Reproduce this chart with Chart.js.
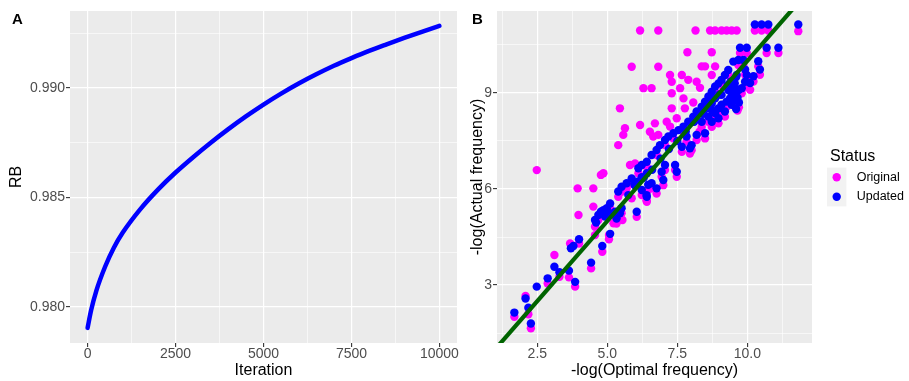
<!DOCTYPE html>
<html><head><meta charset="utf-8">
<script src="https://cdn.jsdelivr.net/npm/chart.js@4.4.1/dist/chart.umd.min.js"></script>
<style>
html,body{margin:0;padding:0;background:#fff;}
#wrap{position:relative;width:909px;height:381px;overflow:hidden;background:#fff;}
canvas{position:absolute;top:0;}
#cA{left:0;}
#cB{left:460px;}
</style></head><body>
<div id="wrap"><canvas id="cA" width="460" height="381"></canvas><canvas id="cB" width="449" height="381"></canvas></div>
<script>
// ---------- Panel A data ----------
const iterA = [0, 100, 250, 500, 750, 1000, 1500, 2000, 2500, 3000, 3500, 4000, 4500, 5000, 5500, 6000, 6500, 7000, 7500, 8000, 8500, 9000, 9500, 10000];
const rbA = [0.97905, 0.97985, 0.98075, 0.98185, 0.98272, 0.98340, 0.98447, 0.98536, 0.98614, 0.98684, 0.98750, 0.98812, 0.98870, 0.98924, 0.98974, 0.99020, 0.99062, 0.99101, 0.99136, 0.99169, 0.99199, 0.99228, 0.99256, 0.99283];

const aXTicks = [0, 2500, 5000, 7500, 10000];
const aXLabels = ['0', '2500', '5000', '7500', '10000'];
const aXMinor = [1250, 3750, 6250, 8750];
const aYTicks = [0.980, 0.985, 0.990];
const aYLabels = ['0.980', '0.985', '0.990'];
const aYMinor = [0.9825, 0.9875, 0.9925];

// ---------- Panel B data ----------
const bXTicks = [2.5, 5.0, 7.5, 10.0];
const bXLabels = ['2.5', '5.0', '7.5', '10.0'];
const bXMinor = [1.25, 3.75, 6.25, 8.75, 11.25];
const bYTicks = [3, 6, 9];
const bYLabels = ['3', '6', '9'];
const bYMinor = [1.5, 4.5, 7.5, 10.5];

const statusLabels = ['Original', 'Updated'];

const originalPts = [
[1.68,2.01],[2.08,2.66],[2.18,2.09],[2.27,1.65],[2.48,6.59],[2.87,3.05],[3.11,3.94],[3.29,3.26],[3.63,3.24],[3.85,2.95],
[3.67,4.30],[3.99,4.30],[4.42,3.52],[4.82,4.04],[3.97,5.19],[3.94,6.02],[4.50,6.02],[4.50,5.45],[4.77,6.44],[4.86,6.49],
[4.56,4.56],[5.06,4.43],[5.06,4.56],[4.56,4.82],[5.22,4.93],[5.54,5.03],[5.87,5.71],[6.05,5.13],[6.41,5.60],[6.58,6.02],
[4.68,5.03],[4.86,5.18],[4.98,5.24],[5.10,5.39],[5.28,5.13],[5.45,5.08],[5.51,5.24],[5.33,4.92],[5.69,6.02],[5.87,6.17],
[5.51,5.91],[5.39,5.76],
[5.87,9.82],[6.82,9.82],[7.24,9.56],[7.66,9.56],[7.30,9.35],[6.29,9.15],[6.58,9.15],[7.60,9.15],[8.19,9.35],[8.73,9.56],
[7.89,9.41],[7.30,8.99],[7.72,8.83],[5.45,8.52],[7.30,8.52],[7.77,8.52],[7.48,8.21],[6.17,8.00],[6.70,8.05],[5.63,7.90],
[5.57,7.69],[7.12,8.10],[6.52,7.79],[6.64,7.64],[6.82,7.69],[5.39,7.37],[7.24,7.95],[5.81,6.75],[5.99,6.80],[8.31,9.16],
[8.07,8.70],[8.29,7.79],
[6.17,10.95],[6.82,10.95],[8.15,10.95],[8.67,10.95],[8.85,10.95],[9.08,10.95],[9.26,10.95],[9.44,10.95],[9.62,10.95],[11.82,10.93],
[7.86,10.27],[8.73,10.27],[8.37,9.83],[8.49,9.83],[8.85,9.83],
[10.10,9.10],[10.22,9.36],[10.39,9.83],[10.45,9.57],[9.92,9.57],[9.74,10.25],[9.98,10.25],[10.69,10.25],[11.11,10.25],[10.27,10.95],[10.51,10.95],[10.75,10.95],
[7.83,7.48],[8.01,7.21],[8.19,7.53],[8.49,7.58],[7.66,7.16],[7.95,7.11],[8.37,7.94],[8.61,8.10],[8.85,8.21],[8.97,8.36],
[9.08,8.47],[9.26,8.57],[9.38,8.67],[9.44,8.83],[9.50,8.99],[8.73,7.94],[8.97,8.05],[9.20,8.26],[9.56,8.62],[9.80,8.99],
[9.92,9.19],[9.98,9.40],[9.65,8.45],[9.70,8.55],
[7.06,6.59],[7.42,6.59],[7.48,6.38],[6.94,6.38],[7.00,6.12],[6.76,5.86],[6.46,5.97],[6.40,5.65],[6.23,5.81],
[6.11,6.49],[6.41,6.69],[6.76,7.06],[7.06,7.37],[7.36,7.58],[7.72,7.79],[8.07,8.10],[8.37,8.41],[8.61,8.73],[8.85,9.04],
[9.08,9.25],[9.32,9.56],[9.68,9.87],[9.86,9.87]
];

const updatedPts = [
[1.68,2.14],[2.08,2.58],[2.18,2.29],[2.27,1.80],[2.48,2.95],[2.87,3.21],[3.11,3.57],[3.29,3.40],[3.63,3.45],[3.85,3.10],
[3.70,4.15],[3.79,4.22],[3.99,4.43],[4.42,3.70],[4.82,4.22],[4.56,5.03],[4.68,5.19],[4.77,5.29],[4.86,5.34],[4.98,5.40],
[5.10,5.55],[4.92,5.14],[5.10,5.24],[5.28,5.29],[5.45,5.24],[5.51,5.40],[5.33,5.08],[5.10,4.60],[4.60,4.95],
[5.39,5.92],[5.51,6.07],[5.69,6.18],[5.87,6.33],[6.11,6.65],[6.23,6.75],[6.41,6.85],[6.58,7.06],[6.76,7.22],[6.88,7.37],
[7.06,7.53],[7.18,7.64],[7.36,7.74],[7.54,7.84],[7.72,7.95],[7.89,8.10],[8.07,8.26],[8.19,8.42],[8.37,8.57],[8.49,8.73],
[8.61,8.89],[8.73,9.04],[8.85,9.20],[8.97,9.30],[9.08,9.41],[9.20,9.56],[9.32,9.72],[9.50,9.98],[9.68,10.03],[9.86,10.03],
[6.00,6.10],[6.30,6.35],[6.60,6.60],[6.90,6.95],[7.20,7.25],[7.50,7.50],[7.80,7.80],[8.10,8.10],[8.40,8.35],[8.70,8.65],
[9.00,8.95],[9.30,9.25],[9.60,9.50],
[5.75,5.81],[5.97,6.13],[6.08,6.23],[6.23,6.37],[6.41,6.49],[6.23,5.97],[6.41,5.76],[6.05,5.29],[6.58,6.18],
[7.06,6.75],[7.42,6.75],[7.48,6.54],[6.94,6.54],[7.00,6.28],[6.76,6.02],[6.46,6.13],[6.40,5.81],
[7.83,7.64],[8.01,7.37],[8.19,7.69],[8.49,7.74],[7.66,7.32],[7.95,7.27],[8.37,8.10],[8.61,8.26],[8.85,8.37],[8.97,8.52],
[9.08,8.63],[9.26,8.73],[9.38,8.83],[9.44,8.99],[9.50,9.15],[9.32,9.09],[9.08,8.94],[8.85,8.83],[8.73,8.68],[8.55,8.52],
[8.43,8.36],[8.73,8.47],[9.20,8.42],[8.97,8.21],[8.73,8.10],[9.44,8.63],[9.56,8.78],[9.80,9.15],[9.92,9.35],[9.98,9.56],
[9.62,9.56],[9.60,9.00],[9.65,8.85],[9.70,9.10],[9.55,9.30],[9.40,9.35],[9.70,8.70],[9.60,8.50],
[10.10,9.31],[10.22,9.52],[10.39,9.99],[10.45,9.73],[9.92,9.73],[9.74,10.41],[9.98,10.41],[10.69,10.41],[11.11,10.41],
[10.27,11.14],[10.51,11.14],[10.75,11.14],[11.82,11.14]
];

const refLineX = [0, 13];
const refLineY = [0, 13];

// ---------- helpers ----------
const FONT = "'Liberation Sans', Arial, Helvetica, sans-serif";
Chart.defaults.font.family = FONT;

function tickSet(major, labels, minor) {
  return function (scale) {
    const t = [];
    major.forEach((v, i) => t.push({ value: v, lbl: labels[i], minorG: false }));
    minor.forEach(v => t.push({ value: v, lbl: '', minorG: true }));
    t.sort((a, b) => a.value - b.value);
    scale.ticks = t;
  };
}
const isMinor = c => !!(c.tick && c.tick.minorG);
function gridOpts() {
  return {
    color: '#FFFFFF',
    lineWidth: c => isMinor(c) ? 0.6 : 1.2,
    drawTicks: true,
    tickLength: 4,
    tickColor: c => isMinor(c) ? 'rgba(0,0,0,0)' : '#333333',
    tickWidth: c => isMinor(c) ? 0 : 1.1
  };
}
function tickOpts(pad) {
  return {
    autoSkip: false, maxRotation: 0, minRotation: 0,
    color: '#4D4D4D', padding: pad,
    font: { size: 14, lineHeight: 1 },
    callback: (v, i, ticks) => ticks[i].lbl
  };
}
const panelBg = {
  id: 'panelBg',
  beforeDraw(chart) {
    const { ctx, chartArea: a } = chart;
    ctx.save();
    ctx.fillStyle = '#EBEBEB';
    ctx.fillRect(a.left, a.top, a.right - a.left, a.bottom - a.top);
    ctx.restore();
  }
};
function tag(txt) {
  return {
    id: 'tag' + txt,
    afterDraw(chart) {
      const ctx = chart.ctx;
      ctx.save();
      ctx.font = 'bold 15px ' + FONT;
      ctx.fillStyle = '#000';
      ctx.textBaseline = 'alphabetic';
      ctx.textAlign = 'left';
      ctx.fillText(txt, 12, 23.5);
      ctx.restore();
    }
  };
}
const statusLegend = {
  id: 'statusLegend',
  afterDraw(chart) {
    const ctx = chart.ctx;
    ctx.save();
    ctx.textAlign = 'left';
    ctx.textBaseline = 'middle';
    ctx.font = '16px ' + FONT;
    ctx.fillStyle = '#000';
    ctx.fillText('Status', 370, 157);
    const byLabel = {};
    chart.data.datasets.forEach(d => byLabel[d.label] = d);
    statusLabels.forEach((lab, i) => {
      const cy = 177.3 + i * 19.4;
      ctx.fillStyle = '#F2F2F2';
      ctx.fillRect(367, cy - 9.7, 19.4, 19.4);
      ctx.beginPath();
      ctx.fillStyle = byLabel[lab].pointBackgroundColor;
      ctx.arc(376.7, cy, 4.2, 0, Math.PI * 2);
      ctx.fill();
      ctx.font = '12.5px ' + FONT;
      ctx.fillStyle = '#000';
      ctx.fillText(lab, 396.7, cy);
    });
    ctx.restore();
  }
};

// ---------- Chart A ----------
new Chart(document.getElementById('cA'), {
  type: 'line',
  data: {
    datasets: [{
      label: 'RB',
      data: iterA.map((x, i) => ({ x: x, y: rbA[i] })),
      borderColor: '#0000FF',
      borderWidth: 4.5,
      borderCapStyle: 'round',
      pointRadius: 0,
      cubicInterpolationMode: 'monotone',
      fill: false
    }]
  },
  options: {
    responsive: false, animation: false, devicePixelRatio: 1,
    layout: { padding: { top: 11, right: 3, bottom: 0, left: 0 } },
    plugins: { legend: { display: false }, tooltip: { enabled: false } },
    scales: {
      x: {
        type: 'linear', min: -500, max: 10500,
        afterBuildTicks: tickSet(aXTicks, aXLabels, aXMinor),
        afterFit: s => { s.height = 38; },
        grid: gridOpts(), border: { display: false },
        ticks: tickOpts(0),
        title: { display: true, text: 'Iteration', color: '#000', font: { size: 16 }, padding: { top: 0, bottom: 0.7 } }
      },
      y: {
        type: 'linear', min: 0.97836, max: 0.99351,
        afterBuildTicks: tickSet(aYTicks, aYLabels, aYMinor),
        afterFit: s => { s.width = 70; },
        grid: gridOpts(), border: { display: false },
        ticks: tickOpts(1),
        title: { display: true, text: 'RB', color: '#000', font: { size: 16 }, padding: { top: 7, bottom: 0 } }
      }
    }
  },
  plugins: [panelBg, tag('A')]
});

// ---------- Chart B ----------
new Chart(document.getElementById('cB'), {
  type: 'scatter',
  data: {
    datasets: [
      {
        type: 'line', label: 'y = x',
        data: refLineX.map((x, i) => ({ x: x, y: refLineY[i] })),
        borderColor: '#006400', borderWidth: 4.2, pointRadius: 0,
        fill: false, clip: 0, order: 0
      },
      {
        label: 'Updated',
        data: updatedPts.map(p => ({ x: p[0], y: p[1] })),
        pointBackgroundColor: '#0000FF', backgroundColor: '#0000FF',
        pointBorderWidth: 0, pointRadius: 4.2, order: 1
      },
      {
        label: 'Original',
        data: originalPts.map(p => ({ x: p[0], y: p[1] })),
        pointBackgroundColor: '#FF00FF', backgroundColor: '#FF00FF',
        pointBorderWidth: 0, pointRadius: 4.2, order: 2
      }
    ]
  },
  options: {
    responsive: false, animation: false, devicePixelRatio: 1,
    layout: { padding: { top: 11, right: 97, bottom: 0, left: 0 } },
    plugins: { legend: { display: false }, tooltip: { enabled: false } },
    scales: {
      x: {
        type: 'linear', min: 1.06, max: 12.31,
        afterBuildTicks: tickSet(bXTicks, bXLabels, bXMinor),
        afterFit: s => { s.height = 38; },
        grid: gridOpts(), border: { display: false },
        ticks: tickOpts(0),
        title: { display: true, text: '-log(Optimal frequency)', color: '#000', font: { size: 16 }, padding: { top: 0, bottom: 0.7 } }
      },
      y: {
        type: 'linear', min: 1.19, max: 11.56,
        afterBuildTicks: tickSet(bYTicks, bYLabels, bYMinor),
        afterFit: s => { s.width = 37; },
        grid: gridOpts(), border: { display: false },
        ticks: tickOpts(1),
        title: { display: true, text: '-log(Actual frequency)', color: '#000', font: { size: 16 }, padding: { top: 7.5, bottom: 0 } }
      }
    }
  },
  plugins: [panelBg, tag('B'), statusLegend]
});
</script>
</body></html>
